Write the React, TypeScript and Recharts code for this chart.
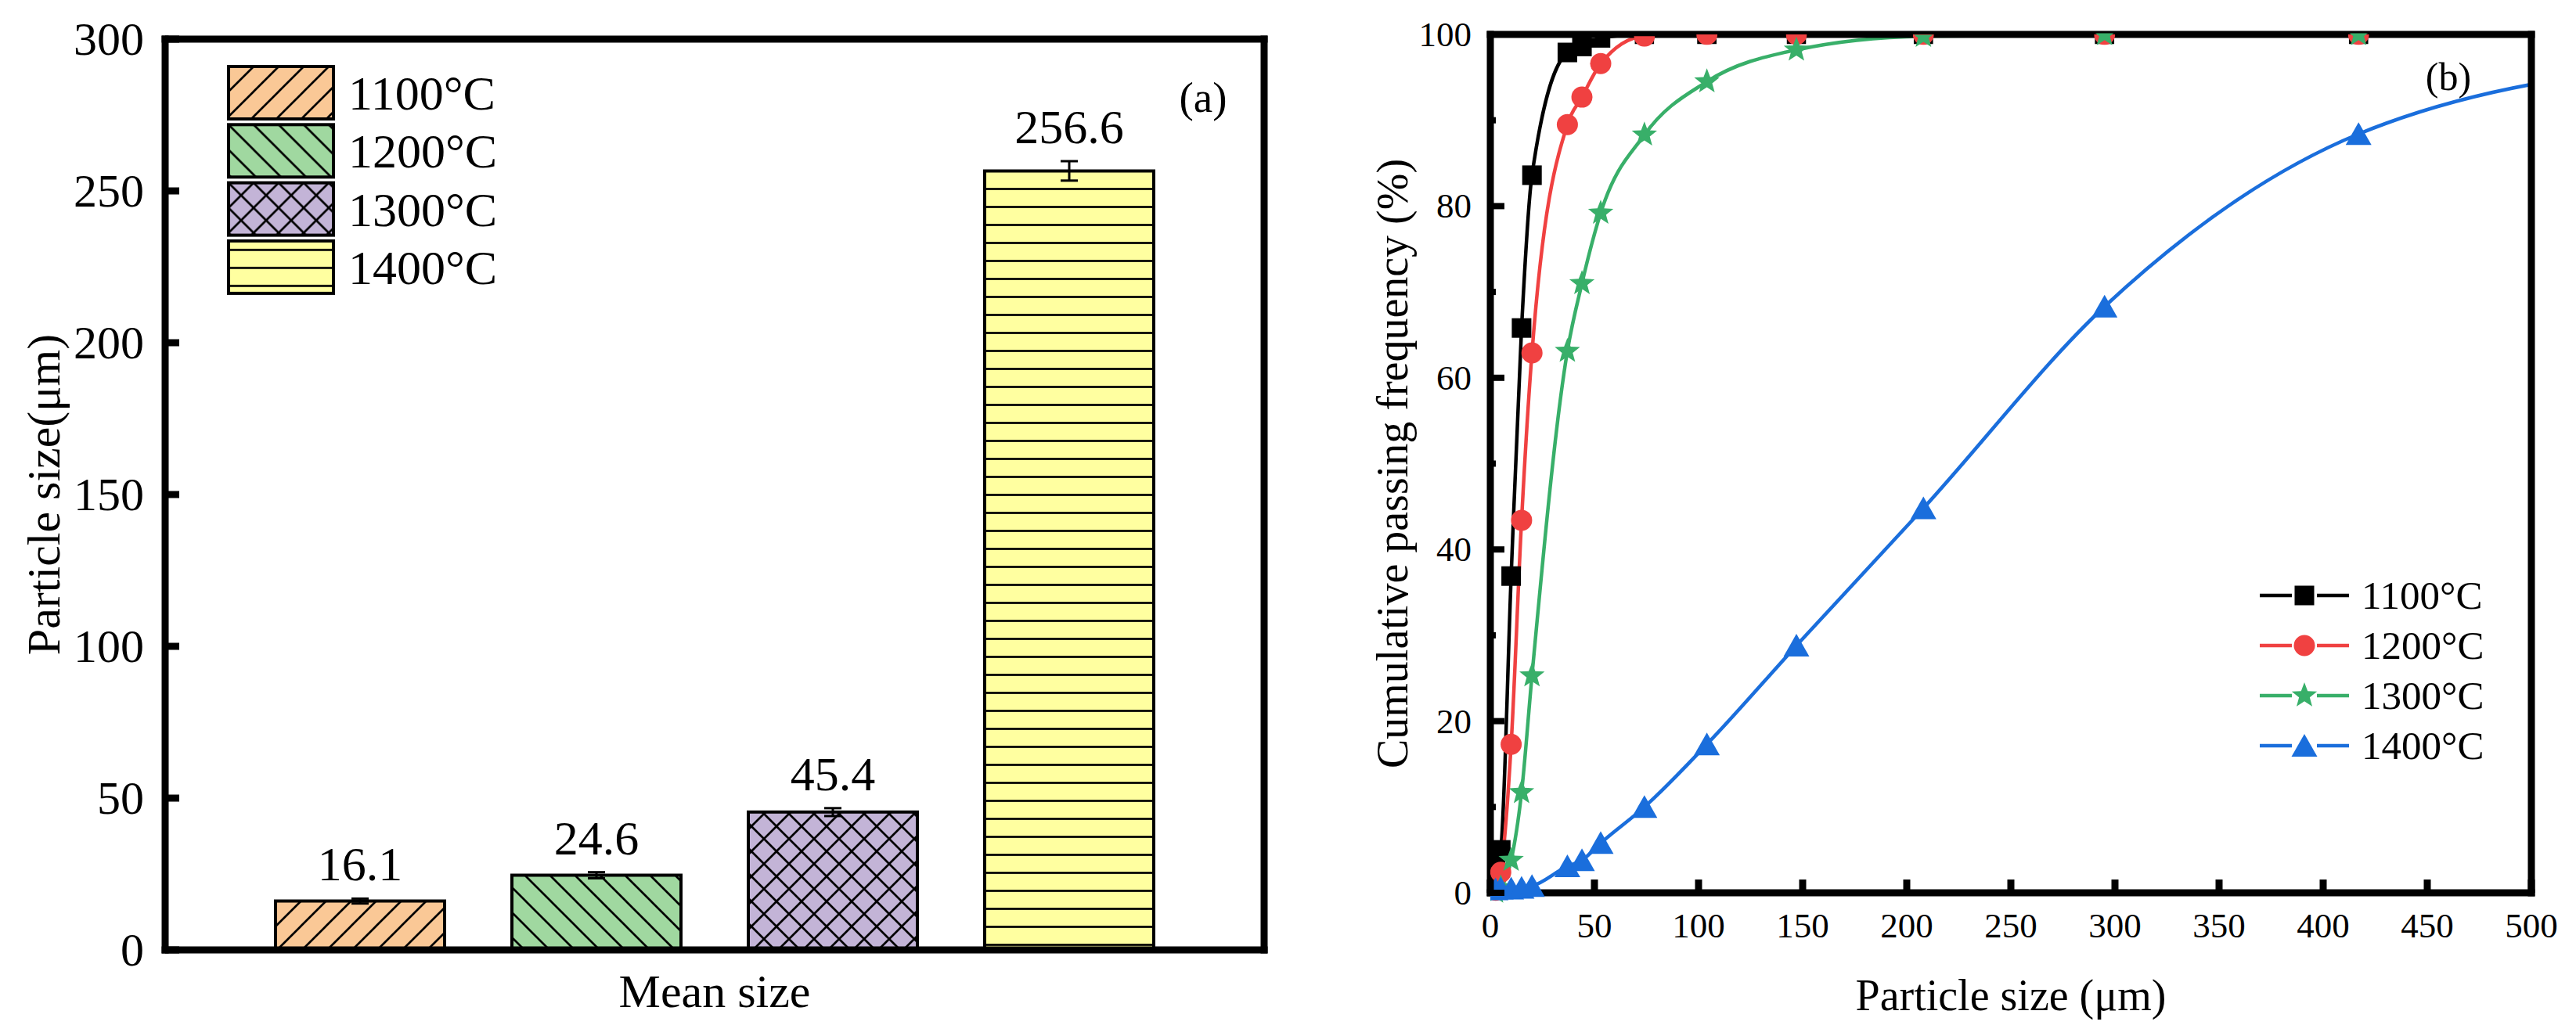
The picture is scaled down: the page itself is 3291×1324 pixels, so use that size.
import React from 'react';
import { BarChart, Bar, ErrorBar, LabelList, LineChart, Line, XAxis, YAxis, Legend } from 'recharts';

const FONT = "'Times New Roman', 'Liberation Serif', serif";

// (a) mean particle size per sintering temperature
const temperatures = ['1100°C', '1200°C', '1300°C', '1400°C'];
const meanSizes = [16.1, 24.6, 45.4, 256.6];
const meanErrors = [0.8, 1.0, 1.3, 3.2];
const barFills = ['#FAC896', '#A0D8A0', '#C3B4D7', '#FFFFA0'];
const barPatterns = ['p1100', 'p1200', 'p1300', 'p1400'];
const sizeTicks = [0, 50, 100, 150, 200, 250, 300];

// (b) cumulative passing frequency
const sieveSizes = [2.5, 5, 10, 15, 20, 37, 44, 53, 74, 104, 147, 208, 295, 417, 589];
const cum1100 = [2.8, 5.0, 36.9, 65.8, 83.6, 97.9, 98.6, 99.6, 100, 100, 100, 100, 100, 100, 100];
const cum1200 = [0.3, 2.4, 17.3, 43.4, 62.9, 89.5, 92.7, 96.6, 99.8, 100, 100, 100, 100, 100, 100];
const cum1300 = [0.1, 0.6, 3.8, 11.7, 25.3, 63.1, 71.0, 79.2, 88.3, 94.5, 98.2, 99.8, 100, 100, null];
const cum1400 = [0.4, 0.5, 0.5, 0.6, 0.8, 3.1, 3.8, 5.8, 10.0, 17.3, 28.8, 44.8, 68.3, 88.4, 97.0];
const cumSeries = [cum1100, cum1200, cum1300, cum1400];
const lineColors = ['#000000', '#F04141', '#38AF69', '#1A6EDC'];
const markerShapes = ['square', 'circle', 'star', 'triangle'];
const xTicks = [0, 50, 100, 150, 200, 250, 300, 350, 400, 450, 500];
const yTicks = [0, 10, 20, 30, 40, 50, 60, 70, 80, 90, 100];

const barRow: Record<string, any> = { name: 'Mean size' };
temperatures.forEach((_, i) => {
  barRow[`v${i}`] = meanSizes[i];
  barRow[`e${i}`] = meanErrors[i];
});
const barData = [barRow];

const lineData = sieveSizes.map((s, i) => {
  const row: Record<string, any> = { size: s };
  cumSeries.forEach((arr, k) => { row[`t${k}`] = arr[i]; });
  return row;
});

const axisLine = { stroke: '#000', strokeWidth: 9, strokeLinecap: 'square' as const };

function starPoints(cx: number, cy: number, R: number, r: number) {
  const pts: string[] = [];
  for (let k = 0; k < 10; k++) {
    const rad = k % 2 === 0 ? R : r;
    const a = -Math.PI / 2 + (k * Math.PI) / 5;
    pts.push(`${cx + rad * Math.cos(a)},${cy + rad * Math.sin(a)}`);
  }
  return pts.join(' ');
}

function Marker({ shape, cx, cy, color }: { shape: string; cx: number; cy: number; color: string }) {
  if (shape === 'square') return <rect x={cx - 12.5} y={cy - 12.5} width={25} height={25} fill={color} />;
  if (shape === 'circle') return <circle cx={cx} cy={cy} r={13.5} fill={color} />;
  if (shape === 'star') return <polygon points={starPoints(cx, cy, 17, 7.2)} fill={color} />;
  return <polygon points={`${cx},${cy - 15} ${cx - 16.5},${cy + 14} ${cx + 16.5},${cy + 14}`} fill={color} />;
}

const makeDot = (s: number) => (props: any) => {
  const { cx, cy, payload, index } = props;
  const v = payload?.[`t${s}`];
  if (cx == null || cy == null || payload?.size > 500 || v == null) {
    return <g key={`n${s}-${index}`} />;
  }
  // points sitting on the top frame only show their lower half, as in the original plot
  return (
    <g key={`m${s}-${index}`} clipPath={v >= 99.5 ? 'url(#lowerHalf)' : undefined}>
      <Marker shape={markerShapes[s]} cx={cx} cy={cy} color={lineColors[s]} />
    </g>
  );
};

const makeBarLabel = (i: number) => (props: any) => {
  const vb = props.viewBox || {};
  const x = props.x ?? vb.x;
  const y = props.y ?? vb.y;
  const width = props.width ?? vb.width;
  const height = props.height ?? vb.height;
  const pxPerUnit = height / meanSizes[i];
  return (
    <text
      x={x + width / 2}
      y={y - 23 - meanErrors[i] * pxPerUnit}
      textAnchor="middle"
      fontSize={62}
      fontFamily={FONT}
      fill="#000"
    >
      {meanSizes[i]}
    </text>
  );
};

const LeftYTick = (props: any) => {
  const { x, y, payload } = props;
  return (
    <g>
      <line x1={x} x2={x + 18} y1={y} y2={y} stroke="#000" strokeWidth={9} />
      <text x={x - 27} y={y} textAnchor="end" dominantBaseline="central" fontSize={60} fontFamily={FONT} fill="#000">
        {payload.value}
      </text>
    </g>
  );
};

const CategoryTick = (props: any) => {
  const { x, y, payload } = props;
  return (
    <text x={x} y={y + 53} textAnchor="middle" dominantBaseline="central" fontSize={60} fontFamily={FONT} fill="#000">
      {payload.value}
    </text>
  );
};

const RightYTick = (props: any) => {
  const { x, y, payload } = props;
  const major = payload.value % 20 === 0;
  return (
    <g>
      <line x1={x} x2={x + (major ? 18 : 7)} y1={y} y2={y} stroke="#000" strokeWidth={8} />
      {major && (
        <text x={x - 24} y={y} textAnchor="end" dominantBaseline="central" fontSize={45} fontFamily={FONT} fill="#000">
          {payload.value}
        </text>
      )}
    </g>
  );
};

const RightXTick = (props: any) => {
  const { x, y, payload } = props;
  return (
    <g>
      <line x1={x} x2={x} y1={y} y2={y - 17} stroke="#000" strokeWidth={9} />
      <text x={x} y={y + 42} textAnchor="middle" dominantBaseline="central" fontSize={45} fontFamily={FONT} fill="#000">
        {payload.value}
      </text>
    </g>
  );
};

const BarLegend = () => (
  <svg width={420} height={300}>
    {temperatures.map((t, i) => (
      <g key={t} transform={`translate(2, ${3 + i * 74.3})`}>
        <rect x={0} y={0} width={134} height={67} fill={`url(#${barPatterns[i]})`} stroke="#000" strokeWidth={4} />
        <text x={153} y={34} dominantBaseline="central" fontSize={62} fontFamily={FONT} fill="#000">
          {t}
        </text>
      </g>
    ))}
  </svg>
);

const LineLegend = () => (
  <svg width={320} height={260}>
    {temperatures.map((t, i) => (
      <g key={t} transform={`translate(0, ${30 + i * 64})`}>
        <line x1={0} x2={41} y1={0} y2={0} stroke={lineColors[i]} strokeWidth={4.5} />
        <line x1={73} x2={114} y1={0} y2={0} stroke={lineColors[i]} strokeWidth={4.5} />
        <Marker shape={markerShapes[i]} cx={57} cy={0} color={lineColors[i]} />
        <text x={130} y={0} dominantBaseline="central" fontSize={51} fontFamily={FONT} fill="#000">
          {t}
        </text>
      </g>
    ))}
  </svg>
);

function MeanSizeChart() {
  return (
    <BarChart
      width={1650}
      height={1324}
      data={barData}
      margin={{ top: 40, right: 25, bottom: 0, left: 0 }}
      barSize={216}
      barGap={86}
    >
      <defs>
        <pattern id="p1100" patternUnits="userSpaceOnUse" width={32} height={32}>
          <rect width={32} height={32} fill={barFills[0]} />
          <path d="M-8,8 L8,-8 M0,32 L32,0 M24,40 L40,24" stroke="#000" strokeWidth={2.7} />
        </pattern>
        <pattern id="p1200" patternUnits="userSpaceOnUse" width={32} height={32}>
          <rect width={32} height={32} fill={barFills[1]} />
          <path d="M-8,24 L8,40 M0,0 L32,32 M24,-8 L40,8" stroke="#000" strokeWidth={2.7} />
        </pattern>
        <pattern id="p1300" patternUnits="userSpaceOnUse" width={32} height={32}>
          <rect width={32} height={32} fill={barFills[2]} />
          <path
            d="M-8,8 L8,-8 M0,32 L32,0 M24,40 L40,24 M-8,24 L8,40 M0,0 L32,32 M24,-8 L40,8"
            stroke="#000"
            strokeWidth={2.7}
          />
        </pattern>
        <pattern id="p1400" patternUnits="userSpaceOnUse" width={12} height={23}>
          <rect width={12} height={23} fill={barFills[3]} />
          <path d="M0,11.5 L12,11.5" stroke="#000" strokeWidth={2.7} />
        </pattern>
      </defs>
      <XAxis
        dataKey="name"
        height={110}
        axisLine={axisLine}
        tickLine={false}
        tickSize={0}
        tickMargin={0}
        tick={<CategoryTick />}
      />
      <XAxis xAxisId="top" orientation="top" dataKey="name" height={10} axisLine={axisLine} tick={false} tickLine={false} />
      <YAxis
        domain={[0, 300]}
        ticks={sizeTicks}
        interval={0}
        width={211}
        axisLine={axisLine}
        tickLine={false}
        tickSize={0}
        tickMargin={0}
        tick={<LeftYTick />}
        label={(p: any) => {
          const vb = p.viewBox;
          const cx = vb.x + 56;
          const cy = vb.y + vb.height / 2;
          return (
            <text
              x={cx}
              y={cy}
              transform={`rotate(-90, ${cx}, ${cy})`}
              textAnchor="middle"
              dominantBaseline="central"
              fontSize={60}
              fontFamily={FONT}
              fill="#000"
            >
              Particle size(μm)
            </text>
          );
        }}
      />
      <YAxis yAxisId="right" orientation="right" domain={[0, 300]} width={10} axisLine={axisLine} tick={false} tickLine={false} />
      {temperatures.map((t, i) => (
        <Bar
          key={t}
          dataKey={`v${i}`}
          name={t}
          fill={`url(#${barPatterns[i]})`}
          stroke="#000"
          strokeWidth={4}
          isAnimationActive={false}
        >
          <ErrorBar dataKey={`e${i}`} width={11} strokeWidth={3} stroke="#000" />
          <LabelList dataKey={`v${i}`} content={makeBarLabel(i)} />
        </Bar>
      ))}
      <Legend
        layout="vertical"
        align="center"
        verticalAlign="middle"
        content={<BarLegend />}
        wrapperStyle={{ left: 290, top: 82, width: 420, height: 300 }}
      />
      <text x={1537} y={124} textAnchor="middle" dominantBaseline="central" fontSize={55} fontFamily={FONT} fill="#000">
        (a)
      </text>
    </BarChart>
  );
}

function CumulativeChart() {
  return (
    <LineChart width={1641} height={1324} data={lineData} margin={{ top: 34, right: 47, bottom: 0, left: 0 }}>
      <defs>
        <clipPath id="lowerHalf" clipPathUnits="objectBoundingBox">
          <rect x={0} y={0.5} width={1} height={0.5} />
        </clipPath>
      </defs>
      <XAxis
        dataKey="size"
        type="number"
        domain={[0, 500]}
        allowDataOverflow
        ticks={xTicks}
        interval={0}
        height={183}
        axisLine={axisLine}
        tickLine={false}
        tickSize={0}
        tickMargin={0}
        tick={<RightXTick />}
        label={(p: any) => {
          const vb = p.viewBox;
          return (
            <text
              x={vb.x + vb.width / 2}
              y={vb.y + 131}
              textAnchor="middle"
              dominantBaseline="central"
              fontSize={56}
              fontFamily={FONT}
              fill="#000"
            >
              Particle size (μm)
            </text>
          );
        }}
      />
      <XAxis
        xAxisId="top"
        orientation="top"
        type="number"
        domain={[0, 500]}
        height={10}
        axisLine={axisLine}
        tick={false}
        tickLine={false}
      />
      <YAxis
        type="number"
        domain={[0, 100]}
        ticks={yTicks}
        interval={0}
        width={254}
        axisLine={axisLine}
        tickLine={false}
        tickSize={0}
        tickMargin={0}
        tick={<RightYTick />}
        label={(p: any) => {
          const vb = p.viewBox;
          const cx = vb.x + 129;
          const cy = vb.y + vb.height / 2;
          return (
            <text
              x={cx}
              y={cy}
              transform={`rotate(-90, ${cx}, ${cy})`}
              textAnchor="middle"
              dominantBaseline="central"
              fontSize={56}
              fontFamily={FONT}
              fill="#000"
            >
              Cumulative passing frequency (%)
            </text>
          );
        }}
      />
      <YAxis yAxisId="right" orientation="right" type="number" domain={[0, 100]} width={10} axisLine={axisLine} tick={false} tickLine={false} />
      {temperatures.map((t, i) => (
        <Line
          key={t}
          type="monotone"
          dataKey={`t${i}`}
          name={t}
          stroke={lineColors[i]}
          strokeWidth={4.5}
          dot={makeDot(i)}
          activeDot={false}
          isAnimationActive={false}
        />
      ))}
      <Legend
        layout="vertical"
        align="center"
        verticalAlign="middle"
        content={<LineLegend />}
        wrapperStyle={{ left: 1237, top: 731, width: 320, height: 260 }}
      />
      <text x={1478} y={98} textAnchor="middle" dominantBaseline="central" fontSize={50} fontFamily={FONT} fill="#000">
        (b)
      </text>
    </LineChart>
  );
}

export default function App() {
  return (
    <div style={{ position: 'absolute', left: 0, top: 0, width: 3291, height: 1324, background: '#fff', fontFamily: FONT }}>
      <div style={{ position: 'absolute', left: 0, top: 0 }}>
        <MeanSizeChart />
      </div>
      <div style={{ position: 'absolute', left: 1650, top: 0 }}>
        <CumulativeChart />
      </div>
    </div>
  );
}
